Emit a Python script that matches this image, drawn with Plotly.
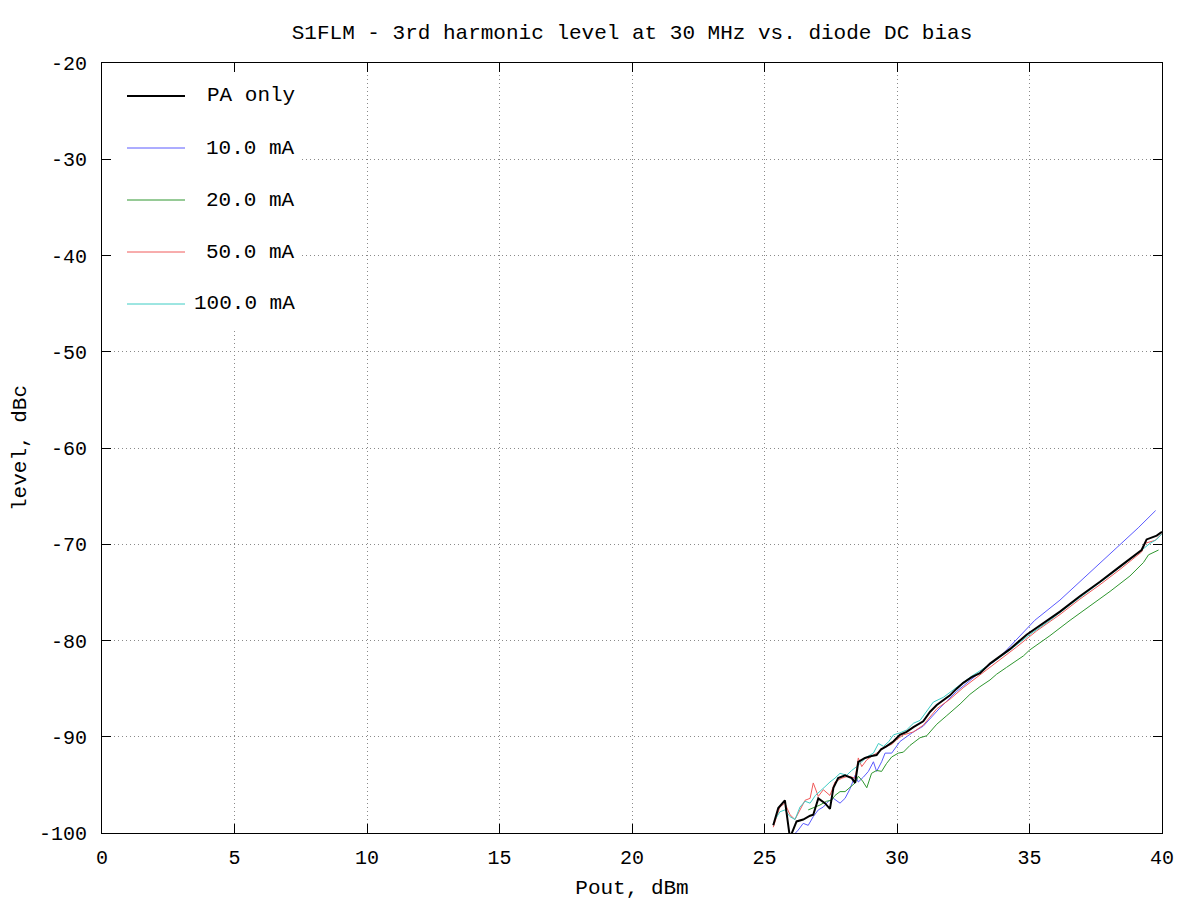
import plotly.graph_objects as go

# ---- data ----
series_names = ["PA only", "10.0 mA", "20.0 mA", "50.0 mA", "100.0 mA"]

pa_x = [25.33, 25.52, 25.77, 25.96, 26.21, 26.46, 26.72, 26.84, 27.03, 27.28, 27.47, 27.60, 27.78,
        28.04, 28.29, 28.42, 28.54, 28.79, 29.04, 29.23, 29.40, 29.60, 29.86, 30.11, 30.36, 30.62,
        30.99, 31.25, 31.50, 31.75, 32.00, 32.25, 32.50, 32.82, 33.13, 33.51, 33.82, 34.26, 34.89,
        35.50, 36.15, 36.90, 37.66, 38.42, 39.23, 39.42, 39.80, 40.00]
pa_y = [-99.2, -97.4, -96.6, -100.5, -98.8, -98.6, -98.2, -98.1, -96.4, -96.9, -97.5, -95.3, -94.3,
        -94.0, -94.3, -94.8, -92.6, -92.2, -92.0, -91.9, -91.3, -91.0, -90.5, -89.8, -89.5, -89.0,
        -88.4, -87.4, -86.7, -86.2, -85.7, -85.0, -84.4, -83.8, -83.4, -82.4, -81.8, -80.9, -79.4,
        -78.2, -77.0, -75.4, -73.9, -72.3, -70.6, -69.5, -69.1, -68.7]

ma10_x = [26.00, 26.27, 26.46, 26.65, 26.84, 27.03, 27.22, 27.41, 27.60, 27.85, 28.04, 28.23, 28.42,
          28.54, 28.73, 28.92, 29.11, 29.23, 29.42, 29.55, 29.80, 30.11, 30.36, 30.62, 30.99, 31.62,
          32.25, 33.00, 33.89, 34.50, 35.20, 36.15, 37.30, 38.42, 39.10, 39.76]
ma10_y = [-100.5, -99.7, -99.0, -99.2, -98.3, -97.6, -97.3, -96.7, -96.4, -96.9, -96.4, -95.4, -94.0,
          -94.7, -94.2, -93.6, -92.6, -93.6, -92.6, -91.7, -91.7, -90.5, -90.0, -89.5, -88.9, -87.0,
          -85.3, -83.6, -81.7, -79.95, -77.9, -75.8, -72.9, -70.0, -68.3, -66.5]

ma20_x = [26.65, 26.92, 27.09, 27.34, 27.53, 27.66, 27.85, 28.04, 28.23, 28.42, 28.54, 28.70, 28.86,
          29.04, 29.23, 29.42, 29.60, 29.80, 30.05, 30.24, 30.49, 30.87, 31.12, 31.50, 31.88, 32.38,
          32.75, 33.13, 33.51, 33.76, 34.13, 34.77, 35.00, 35.77, 36.53, 37.28, 38.04, 38.79, 39.17,
          39.30, 39.49, 39.87]
ma20_y = [-97.6, -97.3, -97.1, -96.7, -96.6, -96.1, -95.7, -95.7, -95.2, -94.8, -94.1, -94.6, -95.3,
          -93.8, -93.5, -93.6, -92.8, -92.1, -91.7, -91.6, -90.9, -90.1, -89.9, -88.7, -87.8, -86.6,
          -85.6, -84.8, -84.1, -83.5, -82.8, -81.6, -81.0, -79.5, -77.9, -76.4, -74.9, -73.3, -72.3,
          -71.9, -71.1, -70.6]

ma50_x = [25.33, 25.58, 25.77, 25.96, 26.15, 26.34, 26.53, 26.72, 26.84, 27.03, 27.22, 27.47, 27.66,
          27.92, 28.16, 28.42, 28.54, 28.67, 28.86, 29.11, 29.36, 29.55, 29.80, 29.99, 30.24, 30.62,
          30.99, 31.50, 32.00, 32.50, 33.13, 33.82, 34.50, 35.27, 36.15, 36.90, 37.66, 38.42, 39.23,
          39.36, 39.74, 40.00]
ma50_y = [-99.4, -97.3, -96.9, -98.1, -98.6, -97.6, -96.6, -96.4, -94.8, -96.2, -95.5, -96.1, -94.7,
          -94.3, -94.1, -94.3, -92.2, -93.1, -92.4, -91.9, -91.5, -91.0, -90.8, -90.3, -89.8, -89.5,
          -88.8, -87.1, -86.1, -84.9, -83.6, -82.1, -80.7, -79.0, -77.3, -75.7, -74.2, -72.6, -70.8,
          -69.9, -69.6, -68.9]

ma100_x = [25.40, 25.58, 25.77, 25.96, 26.15, 26.34, 26.53, 26.72, 26.92, 27.09, 27.28, 27.47, 27.66,
           27.85, 28.10, 28.29, 28.48, 28.67, 28.86, 29.11, 29.30, 29.49, 29.69, 29.87, 30.11, 30.36,
           30.62, 30.87, 31.37, 31.75, 32.25, 32.82, 33.50, 34.26, 35.00, 35.77, 36.53, 37.28, 38.04,
           38.79, 39.30, 39.55, 39.80, 40.00]
ma100_y = [-98.6, -97.8, -97.6, -98.3, -98.6, -97.3, -96.7, -96.9, -96.1, -95.7, -95.2, -94.7, -94.3,
           -93.8, -94.0, -93.5, -93.1, -92.6, -92.1, -91.7, -90.7, -91.0, -90.5, -89.8, -89.6, -89.3,
           -88.6, -88.3, -86.4, -85.9, -84.9, -83.7, -82.5, -81.0, -79.4, -77.9, -76.3, -74.8, -73.2,
           -71.6, -70.4, -69.9, -69.5, -68.9]

x_ticks = [0, 5, 10, 15, 20, 25, 30, 35, 40]
y_ticks = [-20, -30, -40, -50, -60, -70, -80, -90, -100]

# ---- styles ----
FONT = "Liberation Mono"
TXT = 21
colors = ["#000000", "#5a5aff", "#2e962e", "#f05a5a", "#3cccc4"]
widths = [2, 1, 1, 1, 1]

xs = [pa_x, ma10_x, ma20_x, ma50_x, ma100_x]
ys = [pa_y, ma10_y, ma20_y, ma50_y, ma100_y]

fig = go.Figure()
# draw coloured series first, PA-only on top
order = [1, 2, 3, 4, 0]
for i in order:
    fig.add_trace(go.Scatter(x=xs[i], y=ys[i], mode="lines", name=series_names[i],
                             line=dict(color=colors[i], width=widths[i]), showlegend=False))

# custom gnuplot-style legend (top-left, inside plot)
plot_l, plot_r, plot_t, plot_b = 102, 1162, 63, 833
pw, ph = plot_r - plot_l, plot_b - plot_t

def px_x(p):
    return (p - plot_l) / pw

def px_y(p):
    return 1 - (p - plot_t) / ph

shapes = [dict(type="rect", xref="paper", yref="paper",
               x0=px_x(112), x1=px_x(302), y0=px_y(328), y1=px_y(73),
               fillcolor="white", line=dict(width=0), layer="above")]
annotations = []
legend_rows = [96, 148, 200, 252, 304]
for name, c, w, ry in zip(series_names, colors, widths, legend_rows):
    shapes.append(dict(type="line", xref="paper", yref="paper",
                       x0=px_x(127), x1=px_x(185), y0=px_y(ry), y1=px_y(ry),
                       line=dict(color=c, width=w), layer="above"))
    annotations.append(dict(text=name, xref="paper", yref="paper",
                            x=px_x(297), y=px_y(ry), xanchor="right", yanchor="middle",
                            showarrow=False, font=dict(family=FONT, size=TXT, color="#000000")))

fig.update_layout(
    width=1200, height=900,
    margin=dict(l=plot_l, r=1200 - plot_r, t=plot_t, b=900 - plot_b, pad=0),
    paper_bgcolor="white", plot_bgcolor="white",
    font=dict(family=FONT, size=TXT, color="#000000"),
    title=dict(text="S1FLM - 3rd harmonic level at 30 MHz vs. diode DC bias",
               x=0.5, xref="paper", xanchor="center",
               y=1 - 32 / 900, yref="container", yanchor="middle",
               font=dict(family=FONT, size=TXT, color="#000000")),
    shapes=shapes, annotations=annotations,
    showlegend=False,
)

axis_common = dict(showline=True, linecolor="#000000", linewidth=1, mirror="allticks",
                   ticks="inside", ticklen=9, tickcolor="#000000", tickwidth=1,
                   showgrid=True, gridcolor="#8a8a8a", gridwidth=1, griddash="1px,3px",
                   zeroline=False, automargin=False,
                   tickfont=dict(family=FONT, size=20, color="#000000"))

fig.update_xaxes(range=[0, 40], tickvals=x_ticks, ticktext=[str(v) for v in x_ticks],
                 title=dict(text="Pout, dBm", standoff=14, font=dict(family=FONT, size=TXT)),
                 ticklabelstandoff=6, **axis_common)
fig.update_yaxes(range=[-100, -20], tickvals=y_ticks, ticktext=[str(v) for v in y_ticks],
                 title=dict(text="level, dBc", standoff=6, font=dict(family=FONT, size=TXT)),
                 ticklabelstandoff=10, **axis_common)

# remove the browser's default page margin so the figure fills the window exactly
fig.write_html("out.html", config={"displayModeBar": False},
               post_script="document.body.style.margin='0';document.body.style.overflow='hidden';")
